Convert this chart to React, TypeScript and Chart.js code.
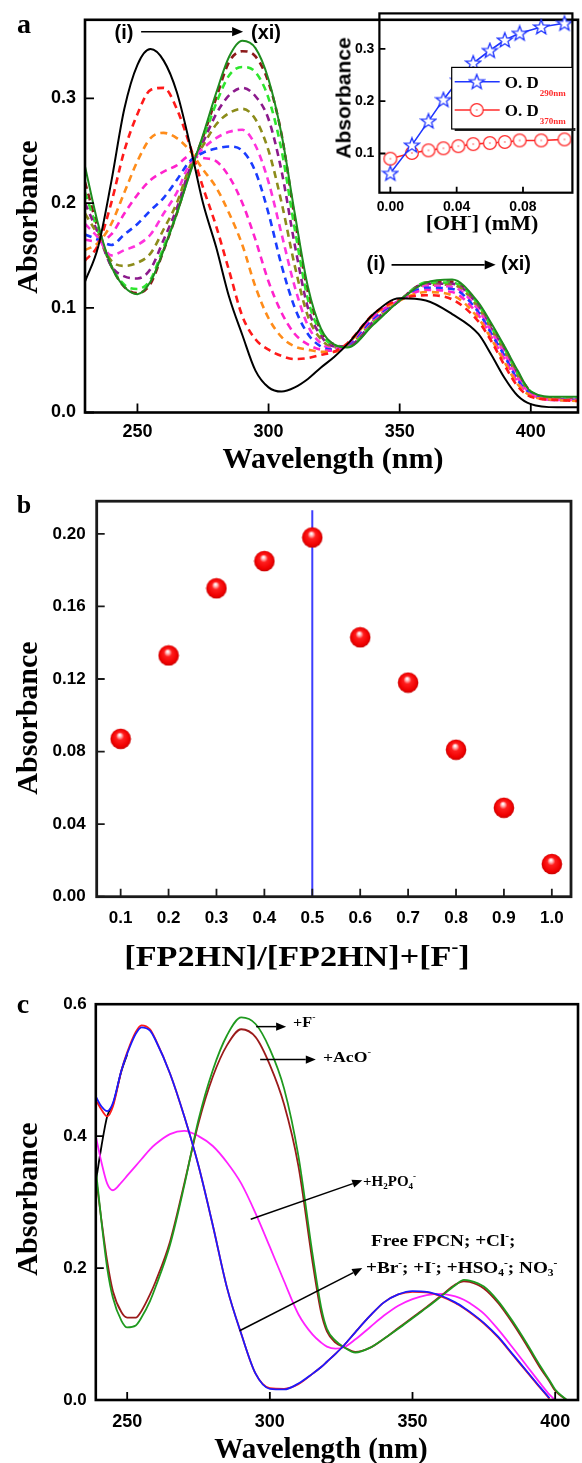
import React, { useEffect, useRef } from 'react';
import { Chart, registerables } from 'chart.js';

Chart.register(...registerables);

const SERIF = '"Liberation Serif", "Times New Roman", serif';
const SANS = '"Liberation Sans", Arial, sans-serif';

// ---------------- Panel a : titration spectra ----------------
const aWavelength = [230,235,240,245,250,255,260,265,270,275,280,285,290,295,300,305,310,315,320,325,330,340,350,360,370,380,385,390,395,400,410,418];
const aCurve01 = [0.125,0.158,0.22,0.29,0.332,0.347,0.336,0.306,0.256,0.2,0.158,0.11,0.074,0.04,0.024,0.02,0.024,0.032,0.043,0.053,0.065,0.094,0.109,0.107,0.094,0.075,0.055,0.033,0.016,0.008,0.005,0.005];
const aCurve02 = [0.145,0.16,0.2,0.25,0.285,0.308,0.31,0.29,0.255,0.215,0.178,0.135,0.092,0.07,0.06,0.054,0.051,0.052,0.055,0.058,0.066,0.094,0.108,0.112,0.108,0.087,0.068,0.045,0.025,0.015,0.012,0.011];
const aCurve03 = [0.155,0.162,0.18,0.21,0.24,0.262,0.267,0.262,0.25,0.232,0.215,0.19,0.16,0.12,0.09,0.072,0.063,0.06,0.058,0.058,0.065,0.093,0.107,0.115,0.112,0.09,0.07,0.048,0.027,0.016,0.012,0.011];
const aCurve04 = [0.165,0.163,0.17,0.19,0.208,0.222,0.23,0.236,0.245,0.243,0.24,0.225,0.2,0.165,0.125,0.095,0.075,0.065,0.06,0.059,0.065,0.092,0.107,0.117,0.115,0.093,0.072,0.051,0.029,0.017,0.012,0.012];
const aCurve05 = [0.17,0.165,0.16,0.17,0.18,0.193,0.205,0.222,0.24,0.248,0.252,0.254,0.25,0.23,0.19,0.14,0.1,0.075,0.063,0.06,0.064,0.09,0.107,0.119,0.118,0.096,0.075,0.054,0.031,0.018,0.012,0.012];
const aCurve06 = [0.18,0.167,0.15,0.155,0.16,0.17,0.19,0.21,0.238,0.252,0.262,0.268,0.27,0.255,0.22,0.17,0.12,0.083,0.066,0.061,0.064,0.089,0.107,0.121,0.12,0.098,0.077,0.056,0.033,0.018,0.012,0.012];
const aCurve07 = [0.19,0.169,0.145,0.14,0.143,0.152,0.175,0.2,0.235,0.255,0.275,0.286,0.29,0.28,0.25,0.2,0.14,0.092,0.07,0.062,0.064,0.088,0.107,0.122,0.122,0.1,0.079,0.058,0.035,0.019,0.013,0.012];
const aCurve08 = [0.2,0.171,0.14,0.13,0.128,0.137,0.165,0.195,0.233,0.258,0.285,0.303,0.31,0.302,0.28,0.23,0.16,0.1,0.073,0.063,0.063,0.087,0.107,0.123,0.123,0.102,0.08,0.06,0.036,0.019,0.013,0.012];
const aCurve09 = [0.21,0.173,0.14,0.122,0.118,0.127,0.158,0.19,0.23,0.261,0.295,0.322,0.33,0.325,0.3,0.25,0.175,0.108,0.076,0.064,0.063,0.086,0.107,0.124,0.124,0.103,0.081,0.061,0.037,0.02,0.013,0.013];
const aCurve10 = [0.22,0.175,0.14,0.12,0.114,0.123,0.155,0.19,0.23,0.263,0.3,0.335,0.345,0.34,0.315,0.265,0.185,0.115,0.078,0.065,0.063,0.085,0.107,0.124,0.125,0.104,0.082,0.062,0.038,0.02,0.013,0.013];
const aCurve11 = [0.235,0.18,0.14,0.12,0.113,0.125,0.155,0.19,0.228,0.265,0.305,0.34,0.355,0.348,0.318,0.265,0.19,0.12,0.08,0.065,0.062,0.084,0.107,0.124,0.127,0.105,0.085,0.063,0.04,0.02,0.015,0.015];
const aXTicks = [250, 300, 350, 400];
const aXTickLabels = ['250', '300', '350', '400'];
const aYTicks = [0, 0.1, 0.2, 0.3];
const aYTickLabels = ['0.0', '0.1', '0.2', '0.3'];
const aArrows = [
  { from: [251.4, 0.3636], to: [290.3, 0.3636] },
  { from: [346.9, 0.141], to: [386.6, 0.141] },
];

// ---------------- Inset ----------------
const insetOH = [0, 0.013, 0.023, 0.032, 0.041, 0.05, 0.06, 0.069, 0.078, 0.091, 0.105];
const insetOD290 = [0.062, 0.116, 0.162, 0.203, 0.24, 0.273, 0.297, 0.317, 0.33, 0.342, 0.349];
const insetOD370 = [0.09, 0.101, 0.106, 0.11, 0.114, 0.118, 0.12, 0.122, 0.125, 0.125, 0.127];
const insetXTicks = [0, 0.04, 0.08];
const insetXTickLabels = ['0.00', '0.04', '0.08'];
const insetYTicks = [0.1, 0.2, 0.3];
const insetYTickLabels = ['0.1', '0.2', '0.3'];

// ---------------- Panel b : Job plot ----------------
const bRatio = [0.1, 0.2, 0.3, 0.4, 0.5, 0.6, 0.7, 0.8, 0.9, 1.0];
const bAbsorbance = [0.087, 0.133, 0.17, 0.185, 0.198, 0.143, 0.118, 0.081, 0.049, 0.018];
const bLineX = [0.5, 0.5];
const bLineY = [0, 0.213];
const bXTicks = [0.1, 0.2, 0.3, 0.4, 0.5, 0.6, 0.7, 0.8, 0.9, 1.0];
const bXTickLabels = ['0.1', '0.2', '0.3', '0.4', '0.5', '0.6', '0.7', '0.8', '0.9', '1.0'];
const bYTicks = [0, 0.04, 0.08, 0.12, 0.16, 0.2];
const bYTickLabels = ['0.00', '0.04', '0.08', '0.12', '0.16', '0.20'];

// ---------------- Panel c : anion selectivity ----------------
const cWavelength = [239,241,243,245,248,250,253,255,258,260,265,270,275,280,285,290,295,300,305,310,315,318,320,323,326,330,335,340,345,350,355,360,365,368,370,375,380,385,390,395,398,400,404];
const cFreeBlue = [0.46,0.445,0.438,0.45,0.5,0.525,0.555,0.565,0.56,0.545,0.495,0.43,0.355,0.265,0.17,0.1,0.04,0.017,0.016,0.025,0.04,0.05,0.058,0.07,0.083,0.103,0.127,0.148,0.16,0.165,0.164,0.158,0.148,0.14,0.134,0.117,0.096,0.07,0.044,0.018,0.003,null,null];
const cFreeRed = [0.455,0.44,0.43,0.445,0.5,0.527,0.558,0.568,0.562,0.546,0.495,0.43,0.355,0.265,0.17,0.1,0.04,0.018,0.017,0.024,0.04,0.05,0.058,0.07,0.083,0.103,0.127,0.148,0.16,0.164,0.163,0.157,0.147,0.139,0.133,0.116,0.095,0.069,0.043,0.017,0.002,null,null];
const cFreeBlack = [0.33,0.385,0.43,0.448,0.499,0.524];
const cH2PO4 = [0.4,0.36,0.328,0.318,0.33,0.34,0.355,0.365,0.38,0.388,0.403,0.408,0.4,0.385,0.36,0.328,0.283,0.232,0.18,0.13,0.099,0.087,0.081,0.078,0.08,0.092,0.11,0.128,0.143,0.153,0.159,0.161,0.157,0.152,0.147,0.131,0.107,0.08,0.052,0.024,0.008,0.0,null];
const cF = [0.35,0.27,0.2,0.155,0.12,0.11,0.113,0.125,0.15,0.172,0.235,0.325,0.425,0.5,0.553,0.58,0.57,0.532,0.472,0.37,0.22,0.14,0.108,0.09,0.08,0.072,0.079,0.093,0.108,0.124,0.14,0.157,0.174,0.182,0.181,0.172,0.15,0.12,0.086,0.05,0.03,0.016,0.0];
const cAcO = [0.34,0.272,0.21,0.165,0.133,0.125,0.125,0.135,0.16,0.18,0.24,0.328,0.42,0.49,0.538,0.562,0.55,0.508,0.448,0.355,0.208,0.132,0.104,0.087,0.08,0.073,0.079,0.093,0.109,0.125,0.141,0.158,0.175,0.18,0.179,0.169,0.147,0.117,0.083,0.047,0.028,0.014,0.0];
const cXTicks = [250, 300, 350, 400];
const cXTickLabels = ['250', '300', '350', '400'];
const cYTicks = [0, 0.2, 0.4, 0.6];
const cYTickLabels = ['0.0', '0.2', '0.4', '0.6'];
const cArrows = [
  { from: [295.2, 0.566], to: [305.7, 0.566] },
  { from: [296.6, 0.516], to: [316.1, 0.516] },
  { from: [293.3, 0.274], to: [332.4, 0.333] },
  { from: [289.4, 0.105], to: [332.4, 0.2] },
];

const pts = (xs: number[], ys: (number | null)[]) => ys.map((y, i) => ({ x: xs[i], y }));

function axis(min: number, max: number, ticks: number[], labels: string[], size: number, pad: number, fit: number, horizontal: boolean) {
  return {
    type: 'linear',
    min,
    max,
    grid: { display: false, drawTicks: false },
    border: { display: false },
    afterBuildTicks: (s: any) => { s.ticks = ticks.map((v) => ({ value: v })); },
    afterFit: (s: any) => { if (horizontal) s.height = fit; else s.width = fit; },
    ticks: {
      autoSkip: false,
      maxRotation: 0,
      minRotation: 0,
      padding: pad,
      color: '#000',
      font: { family: SANS, weight: 'bold', size },
      callback: (_v: any, i: number) => labels[i],
    },
  };
}

function framePlugin(lw: number, tickLen: number, color = '#000') {
  return {
    id: 'frameTicks',
    afterDatasetsDraw(chart: any) {
      const { ctx, chartArea: a, scales } = chart;
      const xs = scales.x, ys = scales.y;
      ctx.save();
      ctx.strokeStyle = color;
      ctx.lineWidth = 1.8;
      ctx.beginPath();
      xs.ticks.forEach((t: any) => { const p = xs.getPixelForValue(t.value); ctx.moveTo(p, a.bottom); ctx.lineTo(p, a.bottom - tickLen); });
      ys.ticks.forEach((t: any) => { const p = ys.getPixelForValue(t.value); ctx.moveTo(a.left, p); ctx.lineTo(a.left + tickLen, p); });
      ctx.stroke();
      ctx.lineWidth = lw;
      ctx.strokeRect(a.left, a.top, a.right - a.left, a.bottom - a.top);
      ctx.restore();
    },
  };
}

function arrowPlugin(arrows: { from: number[]; to: number[] }[], lw: number, head: number) {
  return {
    id: 'arrows',
    afterDatasetsDraw(chart: any) {
      const { ctx, scales } = chart;
      const xs = scales.x, ys = scales.y;
      ctx.save();
      ctx.strokeStyle = '#000';
      ctx.fillStyle = '#000';
      ctx.lineWidth = lw;
      for (const a of arrows) {
        const x0 = xs.getPixelForValue(a.from[0]), y0 = ys.getPixelForValue(a.from[1]);
        const x1 = xs.getPixelForValue(a.to[0]), y1 = ys.getPixelForValue(a.to[1]);
        const ang = Math.atan2(y1 - y0, x1 - x0);
        const bx = x1 - head * Math.cos(ang), by = y1 - head * Math.sin(ang);
        ctx.beginPath(); ctx.moveTo(x0, y0); ctx.lineTo(bx, by); ctx.stroke();
        const w = head * 0.42;
        ctx.beginPath();
        ctx.moveTo(x1, y1);
        ctx.lineTo(bx + w * Math.sin(ang), by - w * Math.cos(ang));
        ctx.lineTo(bx - w * Math.sin(ang), by + w * Math.cos(ang));
        ctx.closePath();
        ctx.fill();
      }
      ctx.restore();
    },
  };
}

function makeStar(color: string) {
  const c = document.createElement('canvas');
  c.width = 18; c.height = 18;
  const g = c.getContext('2d')!;
  g.beginPath();
  for (let i = 0; i < 10; i++) {
    const r = i % 2 === 0 ? 7.8 : 3.3;
    const ang = -Math.PI / 2 + (i * Math.PI) / 5;
    const x = 9 + r * Math.cos(ang), y = 9.5 + r * Math.sin(ang);
    if (i === 0) g.moveTo(x, y); else g.lineTo(x, y);
  }
  g.closePath();
  g.fillStyle = '#fff'; g.fill();
  g.strokeStyle = color; g.lineWidth = 1.3; g.stroke();
  return c;
}

function makeRing(color: string) {
  const c = document.createElement('canvas');
  c.width = 16; c.height = 16;
  const g = c.getContext('2d')!;
  g.beginPath(); g.arc(8, 8, 6.4, 0, Math.PI * 2);
  g.fillStyle = '#fff'; g.fill();
  g.strokeStyle = color; g.lineWidth = 1.3; g.stroke();
  g.beginPath(); g.arc(8, 8, 0.9, 0, Math.PI * 2);
  g.fillStyle = '#ff8a8a'; g.fill();
  return c;
}

function makeSphere() {
  const c = document.createElement('canvas');
  c.width = 22; c.height = 22;
  const g = c.getContext('2d')!;
  const grad = g.createRadialGradient(10, 7, 0.5, 11, 11, 10.5);
  grad.addColorStop(0, '#ffffff');
  grad.addColorStop(0.15, '#ffb0b0');
  grad.addColorStop(0.35, '#ff1e1e');
  grad.addColorStop(0.8, '#f00000');
  grad.addColorStop(1, '#c40000');
  g.beginPath(); g.arc(11, 11, 10.3, 0, Math.PI * 2);
  g.fillStyle = grad; g.fill();
  return c;
}

type TP = { x: number; y: number; size: number; serif?: boolean; anchor?: 'c' | 'l' | 'r'; rot?: boolean; sx?: number; children: React.ReactNode };
function T({ x, y, size, serif = true, anchor = 'c', rot = false, sx = 1, children }: TP) {
  const tx = anchor === 'c' ? '-50%' : anchor === 'l' ? '0' : '-100%';
  return (
    <div
      style={{
        position: 'absolute', left: x, top: y, fontSize: size, lineHeight: 1,
        fontFamily: serif ? SERIF : SANS, fontWeight: 'bold', whiteSpace: 'nowrap', color: '#000',
        transformOrigin: anchor === 'l' ? 'left center' : 'center center',
        transform: `translate(${tx},-50%)` + (rot ? ' rotate(-90deg)' : '') + (sx !== 1 ? ` scaleX(${sx})` : ''),
      }}
    >
      {children}
    </div>
  );
}
const Sup = ({ c }: { c: string }) => <span style={{ fontSize: '0.6em', position: 'relative', top: '-0.75em', lineHeight: 0 }}>{c}</span>;
const Sub = ({ c }: { c: string }) => <span style={{ fontSize: '0.6em', position: 'relative', top: '0.35em', lineHeight: 0 }}>{c}</span>;

export default function App() {
  const aRef = useRef<HTMLCanvasElement>(null);
  const iRef = useRef<HTMLCanvasElement>(null);
  const bRef = useRef<HTMLCanvasElement>(null);
  const cRef = useRef<HTMLCanvasElement>(null);

  useEffect(() => {
    const charts: Chart[] = [];
    const common = { animation: false, responsive: false, devicePixelRatio: 1, plugins: { legend: { display: false }, tooltip: { enabled: false } } };

    // ---- panel a
    const aSeries = [
      { d: aCurve01, c: '#000000', dash: false },
      { d: aCurve11, c: '#1e8c1e', dash: false },
      { d: aCurve02, c: '#ff1a1a', dash: true },
      { d: aCurve03, c: '#ff8c1a', dash: true },
      { d: aCurve04, c: '#ff22cc', dash: true },
      { d: aCurve05, c: '#1a3cff', dash: true },
      { d: aCurve06, c: '#ff33dd', dash: true },
      { d: aCurve07, c: '#8c8c1a', dash: true },
      { d: aCurve08, c: '#8c1a8c', dash: true },
      { d: aCurve09, c: '#2ee62e', dash: true },
      { d: aCurve10, c: '#8c1a1a', dash: true },
    ];
    charts.push(new Chart(aRef.current!, {
      type: 'line',
      data: {
        datasets: aSeries.map((s) => ({
          data: pts(aWavelength, s.d), borderColor: s.c, borderWidth: s.dash ? 2.6 : 2,
          borderDash: s.dash ? [7, 5] : [], pointRadius: 0, cubicInterpolationMode: 'monotone', fill: false,
        })),
      },
      options: {
        ...common,
        layout: { padding: { left: 25, right: 4, top: 13, bottom: 7.5 } },
        scales: {
          x: axis(230, 418, aXTicks, aXTickLabels, 18, 9, 30, true),
          y: axis(0, 0.375, aYTicks, aYTickLabels, 18, 9, 60, false),
        },
      } as any,
      plugins: [framePlugin(2.6, 9), arrowPlugin(aArrows, 1.6, 11)],
    } as any));

    // ---- inset
    const star = makeStar('#1f35ff');
    const ring = makeRing('#ff2a2a');
    const legendPlugin = {
      id: 'insetLegend',
      afterDraw(chart: any) {
        const { ctx, chartArea: a } = chart;
        const L = a.left + 72.3, Tp = a.top + 54, W = a.right - L, H = 61.6;
        ctx.save();
        ctx.fillStyle = '#222';
        ctx.fillRect(L + 3, Tp + H - 1, W, 3);
        ctx.fillStyle = '#fff';
        ctx.fillRect(L, Tp, W, H);
        ctx.strokeStyle = '#000'; ctx.lineWidth = 1.2;
        ctx.strokeRect(L, Tp, W, H);
        const rows = [
          { y: Tp + 14.3, color: '#1f35ff', img: star, sub: '290nm' },
          { y: Tp + 42.6, color: '#ff2a2a', img: ring, sub: '370nm' },
        ];
        for (const r of rows) {
          ctx.strokeStyle = r.color; ctx.lineWidth = 1.6;
          ctx.beginPath(); ctx.moveTo(L + 3, r.y); ctx.lineTo(L + 48, r.y); ctx.stroke();
          ctx.drawImage(r.img, L + 25 - r.img.width / 2, r.y - r.img.height / 2);
          ctx.fillStyle = '#000';
          ctx.font = `bold 17px ${SERIF}`;
          ctx.textBaseline = 'alphabetic';
          ctx.fillText('O. D', L + 53, r.y + 6.3);
          const w = ctx.measureText('O. D').width;
          ctx.fillStyle = '#ff2a2a';
          ctx.font = `bold 9px ${SERIF}`;
          ctx.fillText(r.sub, L + 53 + w + 1, r.y + 14);
        }
        ctx.restore();
      },
    };
    charts.push(new Chart(iRef.current!, {
      type: 'line',
      data: {
        datasets: [
          { data: pts(insetOH, insetOD290), borderColor: '#1f35ff', borderWidth: 1.6, pointStyle: star, pointRadius: 8, tension: 0 },
          { data: pts(insetOH, insetOD370), borderColor: '#ff2a2a', borderWidth: 1.6, pointStyle: ring, pointRadius: 7, tension: 0 },
        ],
      },
      options: {
        ...common,
        layout: { padding: { left: 19.4, right: 4, top: 12.7, bottom: 17.3 } },
        scales: {
          x: axis(-0.0066, 0.1098, insetXTicks, insetXTickLabels, 14, 6, 30, true),
          y: axis(0.025, 0.368, insetYTicks, insetYTickLabels, 14, 5, 30, false),
        },
      } as any,
      plugins: [framePlugin(2.2, 6), legendPlugin],
    } as any));

    // ---- panel b
    const sphere = makeSphere();
    charts.push(new Chart(bRef.current!, {
      type: 'scatter',
      data: {
        datasets: [
          { data: pts(bRatio, bAbsorbance), pointStyle: sphere, pointRadius: 10, showLine: false },
          { data: pts(bLineX, bLineY), borderColor: '#3d3dff', borderWidth: 2, pointRadius: 0, showLine: true },
        ],
      },
      options: {
        ...common,
        layout: { padding: { left: 26.7, right: 4, top: 20, bottom: 8.3 } },
        scales: {
          x: axis(0.05, 1.04, bXTicks, bXTickLabels, 17, 11, 35, true),
          y: axis(0, 0.218, bYTicks, bYTickLabels, 17, 11, 70, false),
        },
      } as any,
      plugins: [framePlugin(2.8, 8, '#1a1a1a')],
    } as any));

    // ---- panel c
    const cSeries = [
      { d: cFreeBlue, c: '#1a1aff' },
      { d: cFreeRed, c: '#ff1a1a' },
      { d: cF, c: '#1f9a1f' },
      { d: cAcO, c: '#9b1b1b' },
      { d: cH2PO4, c: '#ff22ff' },
      { d: cFreeBlack, c: '#000000' },
    ];
    charts.push(new Chart(cRef.current!, {
      type: 'line',
      data: {
        datasets: cSeries.map((s) => ({
          data: pts(cWavelength, s.d), borderColor: s.c, borderWidth: 1.8, pointRadius: 0,
          cubicInterpolationMode: 'monotone', fill: false,
        })),
      },
      options: {
        ...common,
        layout: { padding: { left: 25.8, right: 4, top: 17.7, bottom: 23 } },
        scales: {
          x: axis(239, 408, cXTicks, cXTickLabels, 18, 11, 40, true),
          y: axis(0, 0.6, cYTicks, cYTickLabels, 17, 9, 70, false),
        },
      } as any,
      plugins: [framePlugin(2.6, 8), arrowPlugin(cArrows, 1.5, 10)],
    } as any));

    return () => charts.forEach((c) => c.destroy());
  }, []);

  const cv = (l: number, t: number, w: number, h: number) => ({ position: 'absolute' as const, left: l, top: t, width: w, height: h });

  return (
    <div style={{ position: 'absolute', left: 0, top: 0, width: 582, height: 1463, background: '#fff', overflow: 'hidden' }}>
      <canvas ref={aRef} width={582} height={450} style={cv(0, 0, 582, 450)} />
      <canvas ref={iRef} width={252} height={240} style={cv(330, 0, 252, 240)} />
      <canvas ref={bRef} width={582} height={460} style={cv(0, 480, 582, 460)} />
      <canvas ref={cRef} width={582} height={478} style={cv(0, 985, 582, 478)} />

      {/* panel a */}
      <T x={24} y={24} size={28}>a</T>
      <T x={124} y={31.7} size={20} serif={false}>(i)</T>
      <T x={266} y={31.7} size={20} serif={false}>(xi)</T>
      <T x={376} y={263.3} size={20} serif={false}>(i)</T>
      <T x={516} y={263.3} size={20} serif={false}>(xi)</T>
      <T x={27} y={217} size={30} rot>Absorbance</T>
      <T x={333} y={458} size={30}>Wavelength (nm)</T>
      <T x={343} y={98} size={21} serif={false} rot>Absorbance</T>
      <T x={482} y={223} size={22}>[OH<Sup c="-" />] (mM)</T>

      {/* panel b */}
      <T x={24} y={505} size={26}>b</T>
      <T x={27} y={718} size={30} rot>Absorbance</T>
      <T x={297} y={956} size={30} sx={1.14}>[FP2HN]/[FP2HN]+[F<Sup c="-" />]</T>

      {/* panel c */}
      <T x={23} y={1004} size={28}>c</T>
      <T x={27} y={1199} size={30} rot>Absorbance</T>
      <T x={321} y={1448} size={29}>Wavelength (nm)</T>
      <T x={293} y={1022} size={15} anchor="l" sx={1.08}>+F<Sup c="-" /></T>
      <T x={323} y={1057} size={15} anchor="l" sx={1.18}>+AcO<Sup c="-" /></T>
      <T x={363} y={1181} size={15} anchor="l">+H<Sub c="2" />PO<Sub c="4" /><Sup c="-" /></T>
      <T x={371} y={1241} size={16} anchor="l" sx={1.2}>Free FPCN; +Cl<Sup c="-" />;</T>
      <T x={366} y={1268} size={16} anchor="l" sx={1.2}>+Br<Sup c="-" />; +I<Sup c="-" />; +HSO<Sub c="4" /><Sup c="-" />; NO<Sub c="3" /><Sup c="-" /></T>
    </div>
  );
}
